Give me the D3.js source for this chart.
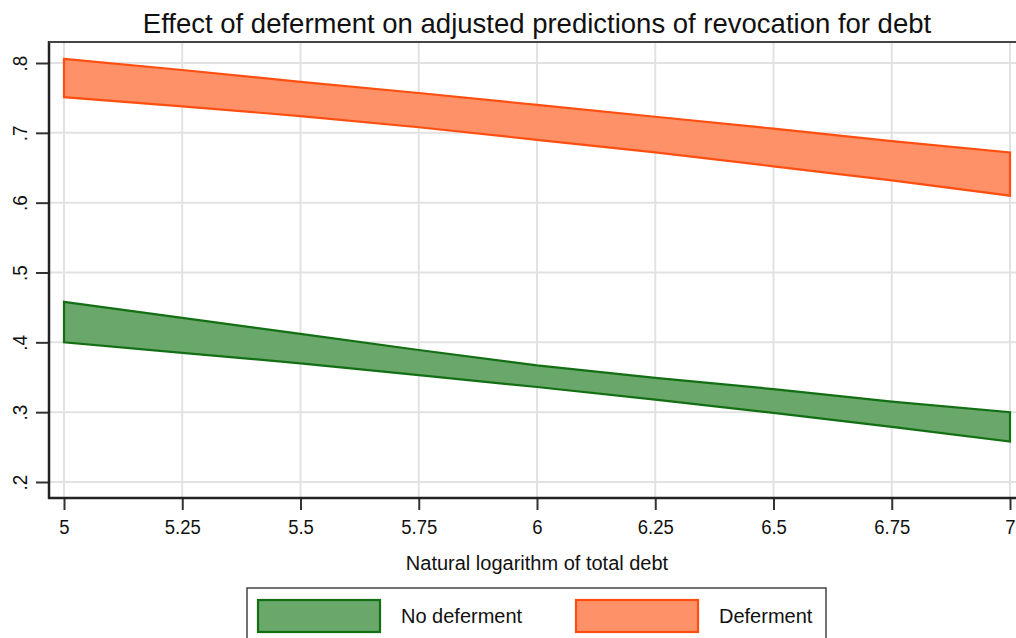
<!DOCTYPE html>
<html>
<head>
<meta charset="utf-8">
<script src="https://cdn.jsdelivr.net/npm/d3@7"></script>
<style>
  body { margin: 0; background: #fff; }
  text { font-family: "Liberation Sans", Arial, sans-serif; fill: #111; }
</style>
</head>
<body>
<svg id="chart" width="1016" height="638"></svg>
<script>
// Data
var debt = [5, 5.25, 5.5, 5.75, 6, 6.25, 6.5, 6.75, 7];
var noDefHi = [0.458, 0.435, 0.412, 0.389, 0.367, 0.349, 0.333, 0.315, 0.300];
var noDefLo = [0.400, 0.385, 0.370, 0.353, 0.336, 0.318, 0.299, 0.279, 0.258];
var defHi = [0.806, 0.790, 0.773, 0.757, 0.740, 0.723, 0.706, 0.688, 0.672];
var defLo = [0.751, 0.738, 0.724, 0.708, 0.690, 0.672, 0.652, 0.632, 0.610];
var xTicks = [5, 5.25, 5.5, 5.75, 6, 6.25, 6.5, 6.75, 7];
var yTicks = [0.2, 0.3, 0.4, 0.5, 0.6, 0.7, 0.8];
var seriesNames = ["No deferment", "Deferment"];

var svg = d3.select("svg#chart");

// plot box
var box = {left: 49, top: 42, right: 1018, bottom: 498};
var x = d3.scaleLinear().domain([5, 7]).range([64, 1010]);
var y = d3.scaleLinear().domain([0.2, 0.8]).range([482, 63]);

// gridlines
svg.append("g").selectAll("line.gy").data(yTicks).enter().append("line")
    .attr("x1", box.left).attr("x2", box.right)
    .attr("y1", function(d) { return y(d); }).attr("y2", function(d) { return y(d); })
    .attr("stroke", "#e2e2e2").attr("stroke-width", 2);
svg.append("g").selectAll("line.gx").data(xTicks).enter().append("line")
    .attr("y1", box.top).attr("y2", box.bottom)
    .attr("x1", function(d) { return x(d); }).attr("x2", function(d) { return x(d); })
    .attr("stroke", "#e2e2e2").attr("stroke-width", 2);

// bands
function band(hi, lo) {
    var pts = debt.map(function(d, i) { return {x: d, hi: hi[i], lo: lo[i]}; });
    return d3.area().x(function(d) { return x(d.x); })
        .y0(function(d) { return y(d.lo); }).y1(function(d) { return y(d.hi); })(pts) + "Z";
}
svg.append("path").attr("d", band(noDefHi, noDefLo))
    .attr("fill", "#6aa76a").attr("stroke", "#136f13").attr("stroke-width", 2.2);
svg.append("path").attr("d", band(defHi, defLo))
    .attr("fill", "#ff9169").attr("stroke", "#ff4f10").attr("stroke-width", 2.2);

// axes
var fmt = function(d) { return d3.format(".1f")(d).replace(/^0/, ""); };
var yAxis = d3.axisLeft(y).tickValues(yTicks).tickFormat(fmt).tickSize(13).tickSizeOuter(0);
var gy = svg.append("g").attr("transform", "translate(" + box.left + ",0)").call(yAxis);
gy.select(".domain").remove();
gy.selectAll(".tick line").attr("stroke", "#333").attr("stroke-width", 2);
// rotated labels, Stata style (slightly narrow glyphs)
gy.selectAll(".tick text")
    .attr("font-size", 21).attr("fill", "#111")
    .attr("x", 0).attr("y", 0).attr("dy", "0.35em").attr("text-anchor", "middle")
    .attr("transform", "translate(-29,0) rotate(-90) scale(0.9,1)");

var xAxis = d3.axisBottom(x).tickValues(xTicks).tickFormat(d3.format("")).tickSize(12).tickSizeOuter(0);
var gx = svg.append("g").attr("transform", "translate(0," + box.bottom + ")").call(xAxis);
gx.select(".domain").remove();
gx.selectAll(".tick line").attr("stroke", "#333").attr("stroke-width", 2);
gx.selectAll(".tick text").attr("font-size", 21).attr("fill", "#111")
    .attr("x", 0).attr("y", 0).attr("dy", "0.71em")
    .attr("transform", "translate(0,21) scale(0.88,1)");

// box lines
svg.append("line").attr("x1", box.left).attr("x2", box.left).attr("y1", box.top - 1).attr("y2", box.bottom + 1)
    .attr("stroke", "#222").attr("stroke-width", 2.5);
svg.append("line").attr("x1", box.left - 1).attr("x2", box.right).attr("y1", box.bottom).attr("y2", box.bottom)
    .attr("stroke", "#222").attr("stroke-width", 2.5);
svg.append("line").attr("x1", box.left).attr("x2", box.right).attr("y1", box.top).attr("y2", box.top)
    .attr("stroke", "#444").attr("stroke-width", 2);

// titles
svg.append("text").attr("x", 537).attr("y", 33).attr("text-anchor", "middle")
    .attr("font-size", 27.5).text("Effect of deferment on adjusted predictions of revocation for debt");
svg.append("text").attr("x", 537).attr("y", 570).attr("text-anchor", "middle")
    .attr("font-size", 20).text("Natural logarithm of total debt");

// legend
var leg = svg.append("g");
leg.append("rect").attr("x", 247).attr("y", 588).attr("width", 579).attr("height", 60)
    .attr("fill", "#fff").attr("stroke", "#444").attr("stroke-width", 1.5);
var legFill = ["#6aa76a", "#ff9169"], legStroke = ["#136f13", "#ff4f10"], legX = [258, 576];
seriesNames.forEach(function(name, i) {
    leg.append("rect").attr("x", legX[i]).attr("y", 600).attr("width", 122).attr("height", 32)
        .attr("fill", legFill[i]).attr("stroke", legStroke[i]).attr("stroke-width", 2.2);
    leg.append("text").attr("x", legX[i] + 143).attr("y", 623).attr("font-size", 20).text(name);
});
</script>
</body>
</html>
